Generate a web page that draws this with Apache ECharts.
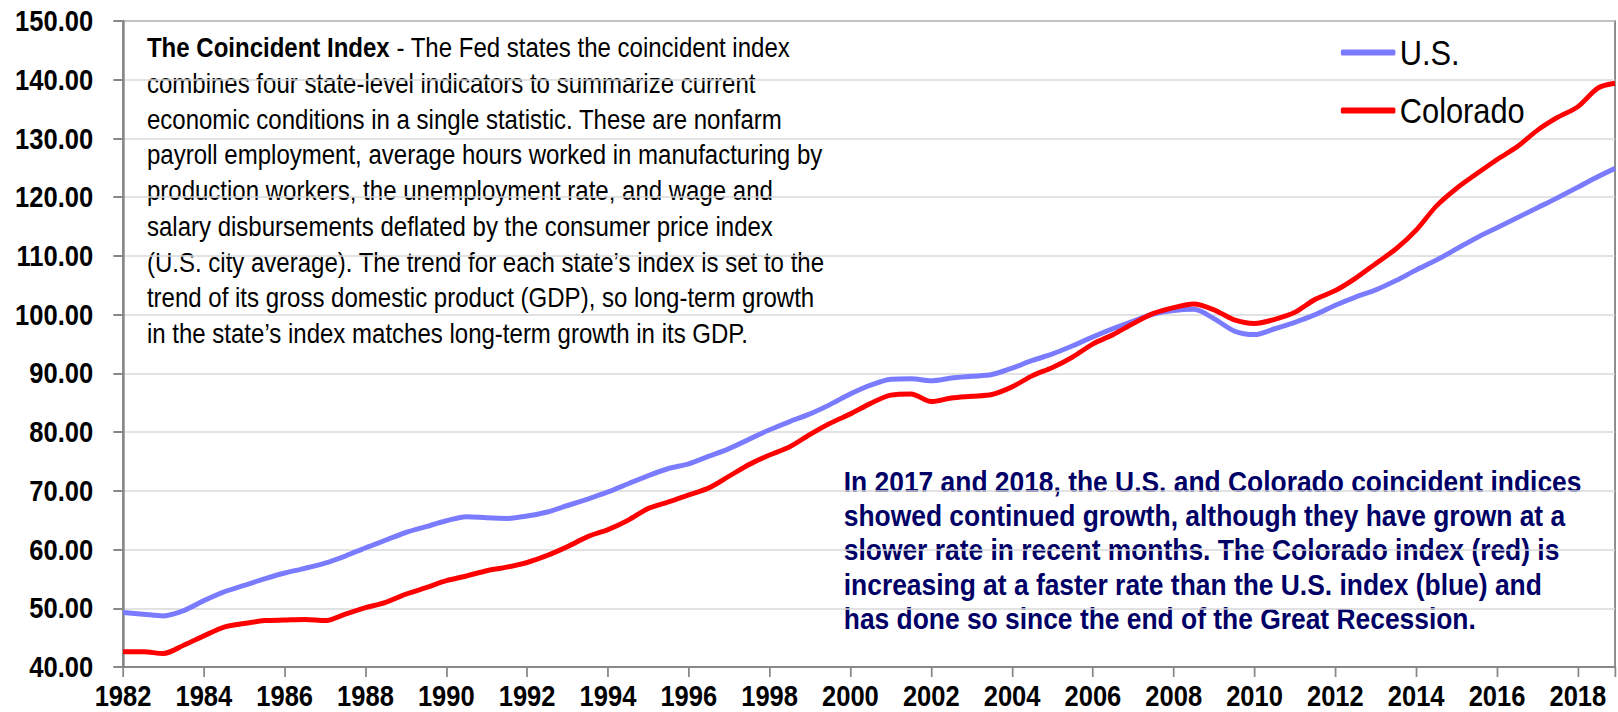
<!DOCTYPE html>
<html>
<head>
<meta charset="utf-8">
<script src="https://cdn.jsdelivr.net/npm/echarts@6/dist/echarts.min.js"></script>
<style>
  html, body { margin: 0; padding: 0; background: #fff; overflow: hidden; }
  #wrap { width: 1618px; height: 712px; overflow: hidden; }
  /* the source picture is squeezed sideways, so the chart is drawn wider and squeezed back */
  #main { width: 1839px; height: 712px; transform: scaleX(0.87983); transform-origin: 0 0; }
</style>
</head>
<body>
<div id="wrap"><div id="main"></div></div>
<script>
// half-year sample points
var years = [
    1982.0, 1982.5, 1983.0, 1983.5, 1984.0, 1984.5, 1985.0, 1985.5, 1986.0, 1986.5,
    1987.0, 1987.5, 1988.0, 1988.5, 1989.0, 1989.5, 1990.0, 1990.5, 1991.0, 1991.5,
    1992.0, 1992.5, 1993.0, 1993.5, 1994.0, 1994.5, 1995.0, 1995.5, 1996.0, 1996.5,
    1997.0, 1997.5, 1998.0, 1998.5, 1999.0, 1999.5, 2000.0, 2000.5, 2001.0, 2001.5,
    2002.0, 2002.5, 2003.0, 2003.5, 2004.0, 2004.5, 2005.0, 2005.5, 2006.0, 2006.5,
    2007.0, 2007.5, 2008.0, 2008.5, 2009.0, 2009.5, 2010.0, 2010.5, 2011.0, 2011.5,
    2012.0, 2012.5, 2013.0, 2013.5, 2014.0, 2014.5, 2015.0, 2015.5, 2016.0, 2016.5,
    2017.0, 2017.5, 2018.0, 2018.5, 2018.92
];
var usIndex = [
    49.3, 49.0, 48.7, 49.6, 51.3, 52.8, 53.9, 55.0, 56.0, 56.8,
    57.7, 58.9, 60.3, 61.6, 62.9, 63.9, 64.9, 65.6, 65.4, 65.3,
    65.7, 66.4, 67.5, 68.6, 69.8, 71.2, 72.6, 73.8, 74.6, 75.9,
    77.2, 78.8, 80.4, 81.8, 83.1, 84.7, 86.5, 88.0, 89.0, 89.1,
    88.75, 89.2, 89.5, 89.8, 90.9, 92.2, 93.3, 94.7, 96.2, 97.6,
    98.9, 100.1, 100.7, 100.9, 99.3, 97.2, 96.6, 97.6, 98.7, 100.0,
    101.6, 103.0, 104.2, 105.8, 107.6, 109.3, 111.2, 113.1, 114.8, 116.5,
    118.2, 119.9, 121.7, 123.5, 124.9
];
var coIndex = [
    42.6, 42.6, 42.3, 43.7, 45.3, 46.8, 47.4, 47.9, 48.0, 48.1,
    47.9, 49.0, 50.1, 51.0, 52.4, 53.5, 54.7, 55.5, 56.4, 57.0,
    57.8, 59.0, 60.5, 62.2, 63.4, 65.0, 67.0, 68.1, 69.3, 70.5,
    72.5, 74.5, 76.1, 77.5, 79.6, 81.5, 83.1, 84.9, 86.3, 86.5,
    85.2, 85.8, 86.1, 86.4, 87.7, 89.6, 91.0, 92.8, 95.0, 96.6,
    98.5, 100.2, 101.2, 101.8, 100.8, 99.1, 98.5, 99.2, 100.4, 102.6,
    104.1, 106.2, 108.7, 111.2, 114.4, 118.5, 121.5, 124.0, 126.4, 128.6,
    131.4, 133.6, 135.4, 138.6, 139.4
];
var seriesNames = ['U.S.', 'Colorado'];

var noteLines = [
    '{b|The Coincident Index} - The Fed states the coincident index',
    'combines four state-level indicators to summarize current',
    'economic conditions in a single statistic. These are nonfarm',
    'payroll employment, average hours worked in manufacturing by',
    'production workers, the unemployment rate, and wage and',
    'salary disbursements deflated by the consumer price index',
    '(U.S. city average). The trend for each state\u2019s index is set to the',
    'trend of its gross domestic product (GDP), so long-term growth',
    'in the state\u2019s index matches long-term growth in its GDP.'
];
var summaryLines = [
    'In 2017 and 2018, the U.S. and Colorado coincident indices',
    'showed continued growth, although they have grown at a',
    'slower rate in recent months. The Colorado index (red) is',
    'increasing at a faster rate than the U.S. index (blue) and',
    'has done so since the end of the Great Recession.'
];

var font = '"Liberation Sans", Arial, sans-serif';

function pairs(xs, ys) {
    return xs.map(function (x, i) { return [x, ys[i]]; });
}

var myChart = echarts.init(document.getElementById('main'), null, { renderer: 'svg' });
var option = {
    animation: false,
    backgroundColor: '#fff',
    grid: {
        left: 139.8, top: 21, right: 3.4, bottom: 45,
        show: true, borderColor: '#555', borderWidth: 1.5
    },
    legend: {
        orient: 'vertical',
        left: 1519, top: 30,
        itemGap: 23,
        icon: 'roundRect',
        itemWidth: 62, itemHeight: 6,
        textStyle: { fontFamily: font, fontSize: 35, color: '#000' },
        data: seriesNames
    },
    xAxis: {
        type: 'value',
        min: 1982, max: 2018.92, interval: 2,
        axisLine: { lineStyle: { color: '#777', width: 1.5 } },
        axisTick: { length: 10, lineStyle: { color: '#888', width: 2 } },
        splitLine: { show: false },
        axisLabel: {
            margin: 20.5, lineHeight: 16,
            fontFamily: font, fontSize: 29, fontWeight: 'bold', color: '#000',
            formatter: function (v) { return v % 2 === 0 ? String(v) : ''; }
        }
    },
    yAxis: {
        type: 'value',
        min: 40, max: 150, interval: 10,
        axisLine: { show: true, lineStyle: { color: '#888', width: 2.5 } },
        axisTick: { show: true, length: 11, lineStyle: { color: '#888', width: 2 } },
        splitLine: { lineStyle: { color: '#d9d9d9', width: 1.5 } },
        axisLabel: {
            margin: 34,
            fontFamily: font, fontSize: 29, fontWeight: 'bold', color: '#000',
            formatter: function (v) { return v.toFixed(2); }
        }
    },
    graphic: [
        {
            type: 'text', left: 167, top: 30,
            style: {
                text: noteLines.join('\n'),
                font: '27.3px ' + font,
                fill: '#000',
                lineHeight: 35.7,
                rich: { b: { fontFamily: font, fontSize: 27.3, fontWeight: 'bold', lineHeight: 35.7 } }
            }
        },
        {
            type: 'text', left: 959, top: 464,
            style: {
                text: summaryLines.join('\n'),
                font: 'bold 30px ' + font,
                fill: '#000066',
                lineHeight: 34.3
            }
        }
    ],
    series: [
        {
            name: seriesNames[0], type: 'line', smooth: 0.3,
            showSymbol: false, symbol: 'none',
            itemStyle: { color: '#7b7bff' },
            lineStyle: { color: '#7b7bff', width: 5 },
            data: pairs(years, usIndex)
        },
        {
            name: seriesNames[1], type: 'line', smooth: 0.3,
            showSymbol: false, symbol: 'none',
            itemStyle: { color: '#ff0000' },
            lineStyle: { color: '#ff0000', width: 5 },
            data: pairs(years, coIndex)
        }
    ]
};
myChart.setOption(option);
</script>
</body>
</html>
